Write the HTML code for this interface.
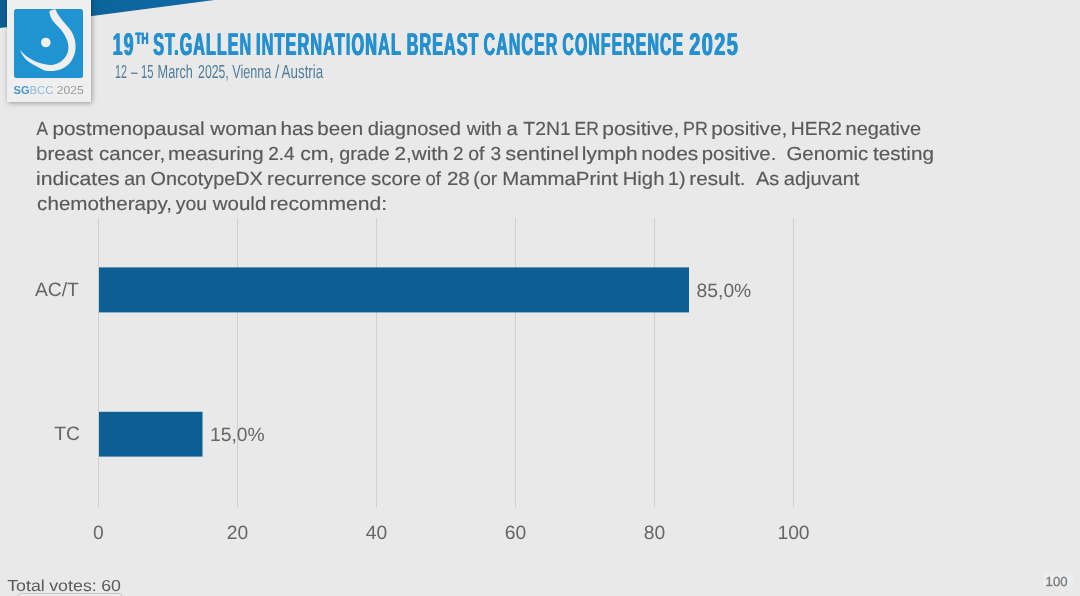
<!DOCTYPE html>
<html><head><meta charset="utf-8">
<style>
html,body{margin:0;padding:0;}
body{width:1080px;height:596px;overflow:hidden;background:#e9e9e9;position:relative;font-family:"Liberation Sans",sans-serif;}
.abs{position:absolute;}
svg{will-change:transform;}
svg text{font-family:"Liberation Sans",sans-serif;text-rendering:geometricPrecision;}
.tt{font-weight:bold;fill:#2590cf;}
.st{fill:#4f7d9c;}
.qq{fill:#5a5a5a;stroke:#5a5a5a;stroke-width:0.18px;}
#card{left:6.5px;top:-6px;width:84.5px;height:107.5px;background:#efefef;box-shadow:1px 1px 5px rgba(0,0,0,.35);}
#sq{left:14px;top:9px;width:69.4px;height:68.5px;background:#2093d3;border-radius:2.5px;}
</style></head><body>
<svg class="abs" style="left:0;top:0" width="1080" height="110">
<defs><linearGradient id="bg" x1="0" x2="1" y1="0" y2="0"><stop offset="0" stop-color="#0b5f94"/><stop offset="1" stop-color="#0f6aa5"/></linearGradient></defs>
<polygon points="0,0 214.5,0 0,27.9" fill="url(#bg)"/>
</svg>
<div id="card" class="abs"></div>
<div id="sq" class="abs"></div>
<svg class="abs" style="left:14px;top:8.9px;overflow:visible" width="70" height="69" viewBox="0 0 70 69">
<path d="M41.4,0.3 C43,4 44.5,6.5 46.9,9.5 C50,13.5 53.5,17 56.1,20.6 C59,24.6 60.8,29 61.3,33.5 C61.8,37.5 61.6,41 60.7,44.6 C59.8,48 58.3,51 56.1,53.8 C53.6,56.8 50.6,58.9 46.9,60.3 C43.4,61.6 39.8,62.2 35.8,62.1 C31.8,62 28.3,60.6 24.7,58.4 C20.6,56.6 17,54.6 13.7,52 C10.3,49 7.7,45.4 5.9,40.9 C8.7,44.2 11.8,46.9 15.5,49.2 C19.6,51.6 23.8,53.6 28.4,54.8 C32.2,55.9 35.8,56.3 39.5,55.7 C43,55 46.2,53.5 48.7,51.1 C51.2,48.8 53,46 53.9,42.8 C54.9,39.2 54.5,35.4 53.3,31.7 C52,28 49.7,24.2 46.9,20.6 C44,17.4 41,14.6 38.6,11.4 C36.6,8.6 35.6,5.6 35.4,2.2 C37,1.2 39,0.5 41.4,0.3 Z" fill="#efefef"/>
<circle cx="31.8" cy="33.5" r="4.8" fill="#efefef"/>
</svg>
<svg class="abs" style="left:0;top:0" width="1080" height="110">
<g>
<text class="tt" x="112.35" y="54.5" font-size="31.4" letter-spacing="2.2" textLength="21.80" lengthAdjust="spacingAndGlyphs">19</text>
<text class="tt" x="152.75" y="54.5" font-size="31.4" letter-spacing="2.2" textLength="99.10" lengthAdjust="spacingAndGlyphs">ST.GALLEN</text>
<text class="tt" x="255.55" y="54.5" font-size="31.4" letter-spacing="2.2" textLength="146.00" lengthAdjust="spacingAndGlyphs">INTERNATIONAL</text>
<text class="tt" x="406.35" y="54.5" font-size="31.4" letter-spacing="2.2" textLength="72.70" lengthAdjust="spacingAndGlyphs">BREAST</text>
<text class="tt" x="483.15" y="54.5" font-size="31.4" letter-spacing="2.2" textLength="74.90" lengthAdjust="spacingAndGlyphs">CANCER</text>
<text class="tt" x="561.95" y="54.5" font-size="31.4" letter-spacing="2.2" textLength="121.80" lengthAdjust="spacingAndGlyphs">CONFERENCE</text>
<text class="tt" x="688.85" y="54.5" font-size="31.4" letter-spacing="2.2" textLength="49.90" lengthAdjust="spacingAndGlyphs">2025</text>
<text class="tt" x="112.80" y="54.5" font-size="31.4" letter-spacing="2.2" textLength="21.80" lengthAdjust="spacingAndGlyphs">19</text>
<text class="tt" x="153.20" y="54.5" font-size="31.4" letter-spacing="2.2" textLength="99.10" lengthAdjust="spacingAndGlyphs">ST.GALLEN</text>
<text class="tt" x="256.00" y="54.5" font-size="31.4" letter-spacing="2.2" textLength="146.00" lengthAdjust="spacingAndGlyphs">INTERNATIONAL</text>
<text class="tt" x="406.80" y="54.5" font-size="31.4" letter-spacing="2.2" textLength="72.70" lengthAdjust="spacingAndGlyphs">BREAST</text>
<text class="tt" x="483.60" y="54.5" font-size="31.4" letter-spacing="2.2" textLength="74.90" lengthAdjust="spacingAndGlyphs">CANCER</text>
<text class="tt" x="562.40" y="54.5" font-size="31.4" letter-spacing="2.2" textLength="121.80" lengthAdjust="spacingAndGlyphs">CONFERENCE</text>
<text class="tt" x="689.30" y="54.5" font-size="31.4" letter-spacing="2.2" textLength="49.90" lengthAdjust="spacingAndGlyphs">2025</text>
<text class="tt" x="113.25" y="54.5" font-size="31.4" letter-spacing="2.2" textLength="21.80" lengthAdjust="spacingAndGlyphs">19</text>
<text class="tt" x="153.65" y="54.5" font-size="31.4" letter-spacing="2.2" textLength="99.10" lengthAdjust="spacingAndGlyphs">ST.GALLEN</text>
<text class="tt" x="256.45" y="54.5" font-size="31.4" letter-spacing="2.2" textLength="146.00" lengthAdjust="spacingAndGlyphs">INTERNATIONAL</text>
<text class="tt" x="407.25" y="54.5" font-size="31.4" letter-spacing="2.2" textLength="72.70" lengthAdjust="spacingAndGlyphs">BREAST</text>
<text class="tt" x="484.05" y="54.5" font-size="31.4" letter-spacing="2.2" textLength="74.90" lengthAdjust="spacingAndGlyphs">CANCER</text>
<text class="tt" x="562.85" y="54.5" font-size="31.4" letter-spacing="2.2" textLength="121.80" lengthAdjust="spacingAndGlyphs">CONFERENCE</text>
<text class="tt" x="689.75" y="54.5" font-size="31.4" letter-spacing="2.2" textLength="49.90" lengthAdjust="spacingAndGlyphs">2025</text>
</g>
<text class="tt" x="135.05" y="44.0" font-size="16.2" letter-spacing="0" textLength="13.10" lengthAdjust="spacingAndGlyphs">TH</text>
<text class="tt" x="135.40" y="44.0" font-size="16.2" letter-spacing="0" textLength="13.10" lengthAdjust="spacingAndGlyphs">TH</text>
<text class="tt" x="135.75" y="44.0" font-size="16.2" letter-spacing="0" textLength="13.10" lengthAdjust="spacingAndGlyphs">TH</text>
<text class="st" x="115.00" y="77.5" font-size="18.8" letter-spacing="0" textLength="11.90" lengthAdjust="spacingAndGlyphs">12</text>
<text class="st" x="131.00" y="77.5" font-size="18.8" letter-spacing="0" textLength="6.60" lengthAdjust="spacingAndGlyphs">–</text>
<text class="st" x="141.00" y="77.5" font-size="18.8" letter-spacing="0" textLength="12.50" lengthAdjust="spacingAndGlyphs">15</text>
<text class="st" x="157.60" y="77.5" font-size="18.8" letter-spacing="0" textLength="35.30" lengthAdjust="spacingAndGlyphs">March</text>
<text class="st" x="198.10" y="77.5" font-size="18.8" letter-spacing="0" textLength="30.60" lengthAdjust="spacingAndGlyphs">2025,</text>
<text class="st" x="232.20" y="77.5" font-size="18.8" letter-spacing="0" textLength="39.10" lengthAdjust="spacingAndGlyphs">Vienna</text>
<text class="st" x="275.00" y="77.5" font-size="18.8" letter-spacing="0" textLength="4.20" lengthAdjust="spacingAndGlyphs">/</text>
<text class="st" x="281.60" y="77.5" font-size="18.8" letter-spacing="0" textLength="41.60" lengthAdjust="spacingAndGlyphs">Austria</text>
<text x="13.6" y="94.1" font-size="11.6" font-weight="bold" fill="#4596c8" textLength="16" lengthAdjust="spacingAndGlyphs">SG</text>
<text x="29.6" y="94.1" font-size="11.6" fill="#8dbbd9" textLength="23.8" lengthAdjust="spacingAndGlyphs">BCC</text>
<text x="56.8" y="94.1" font-size="11.6" fill="#9a9a9a" textLength="27" lengthAdjust="spacingAndGlyphs">2025</text>
</svg>

<svg class="abs" style="left:0;top:100px" width="1080" height="130" viewBox="0 100 1080 130"><g class="qq" font-size="19">
<text transform="translate(36.60,135.0) scale(0.9077,1)">A</text>
<text transform="translate(52.51,135.0) scale(1.0912,1)">postmenopausal</text>
<text transform="translate(210.29,135.0) scale(1.0895,1)">woman</text>
<text transform="translate(280.52,135.0) scale(1.0847,1)">has</text>
<text transform="translate(317.31,135.0) scale(1.0860,1)">been</text>
<text transform="translate(367.80,135.0) scale(1.0629,1)">diagnosed</text>
<text transform="translate(466.64,135.0) scale(1.0403,1)">with</text>
<text transform="translate(506.40,135.0) scale(1.0636,1)">a</text>
<text transform="translate(523.30,135.0) scale(1.0219,1)">T2N1</text>
<text transform="translate(574.48,135.0) scale(0.9200,1)">ER</text>
<text transform="translate(602.19,135.0) scale(1.1061,1)">positive,</text>
<text transform="translate(682.96,135.0) scale(0.9403,1)">PR</text>
<text transform="translate(711.21,135.0) scale(1.0910,1)">positive,</text>
<text transform="translate(790.79,135.0) scale(1.0099,1)">HER2</text>
<text transform="translate(845.55,135.0) scale(1.0503,1)">negative</text>
<text transform="translate(36.02,160.0) scale(1.0794,1)">breast</text>
<text transform="translate(99.00,160.0) scale(1.0804,1)">cancer,</text>
<text transform="translate(167.92,160.0) scale(1.0787,1)">measuring</text>
<text transform="translate(268.20,160.0) scale(0.9983,1)">2.4</text>
<text transform="translate(300.20,160.0) scale(1.1200,1)">cm,</text>
<text transform="translate(339.30,160.0) scale(1.0390,1)">grade</text>
<text transform="translate(394.40,160.0) scale(1.0903,1)">2,with</text>
<text transform="translate(453.10,160.0) scale(0.9900,1)">2</text>
<text transform="translate(468.20,160.0) scale(1.0261,1)">of</text>
<text transform="translate(490.40,160.0) scale(1.0000,1)">3</text>
<text transform="translate(505.60,160.0) scale(1.1200,1)">sentinel</text>
<text transform="translate(581.80,160.0) scale(1.1049,1)">lymph</text>
<text transform="translate(641.30,160.0) scale(1.1001,1)">nodes</text>
<text transform="translate(701.83,160.0) scale(1.0685,1)">positive.</text>
<text transform="translate(786.40,160.0) scale(1.0764,1)">Genomic</text>
<text transform="translate(872.90,160.0) scale(1.0900,1)">testing</text>
<text transform="translate(35.99,185.0) scale(1.1144,1)">indicates</text>
<text transform="translate(124.20,185.0) scale(1.0259,1)">an</text>
<text transform="translate(150.50,185.0) scale(1.0412,1)">OncotypeDX</text>
<text transform="translate(267.11,185.0) scale(1.0936,1)">recurrence</text>
<text transform="translate(371.00,185.0) scale(1.0764,1)">score</text>
<text transform="translate(425.60,185.0) scale(0.9718,1)">of</text>
<text transform="translate(446.90,185.0) scale(1.0843,1)">28</text>
<text transform="translate(473.37,185.0) scale(1.0308,1)">(or</text>
<text transform="translate(502.13,185.0) scale(1.0745,1)">MammaPrint</text>
<text transform="translate(622.73,185.0) scale(1.0664,1)">High</text>
<text transform="translate(667.96,185.0) scale(1.0407,1)">1)</text>
<text transform="translate(689.31,185.0) scale(1.0883,1)">result.</text>
<text transform="translate(755.90,185.0) scale(1.0474,1)">As</text>
<text transform="translate(783.80,185.0) scale(1.0516,1)">adjuvant</text>
<text transform="translate(37.10,210.0) scale(1.0854,1)">chemotherapy,</text>
<text transform="translate(175.80,210.0) scale(1.0211,1)">you</text>
<text transform="translate(212.78,210.0) scale(1.0784,1)">would</text>
<text transform="translate(269.79,210.0) scale(1.1102,1)">recommend:</text>
</g></svg>

<svg class="abs" style="left:0;top:210px" width="1080" height="386" viewBox="0 210 1080 386">
<g fill="#d0d0d0">
<rect x="98" y="218" width="1" height="289"/>
<rect x="237" y="218" width="1" height="289"/>
<rect x="376" y="218" width="1" height="289"/>
<rect x="515" y="218" width="1" height="289"/>
<rect x="654" y="218" width="1" height="289"/>
<rect x="793" y="218" width="1" height="289"/>
</g>
<rect x="99" y="267.4" width="590" height="45" fill="#0b5f92"/>
<rect x="99" y="411.8" width="103.5" height="44.8" fill="#0b5f92"/>
<g font-size="19.3" fill="#666">
<text x="34.9" y="296">AC/T</text>
<text x="54.2" y="440.3">TC</text>
<text x="696.6" y="296.7">85,0%</text>
<text x="210" y="440.7">15,0%</text>
<g text-anchor="middle">
<text x="98.4" y="539">0</text>
<text x="237.5" y="539">20</text>
<text x="376.5" y="539">40</text>
<text x="515.5" y="539">60</text>
<text x="654.5" y="539">80</text>
<text x="793.5" y="539">100</text>
</g>
</g>
<rect x="17.5" y="593.5" width="105" height="12" rx="4" fill="#ededed" stroke="#c6c6c6" stroke-width="1"/>
<g font-size="15.9" fill="#5a5a5a">
<text x="7.2" y="591.1" textLength="37.6" lengthAdjust="spacingAndGlyphs">Total</text>
<text x="49.2" y="591.1" textLength="47.6" lengthAdjust="spacingAndGlyphs">votes:</text>
<text x="101.2" y="591.1" textLength="19.8" lengthAdjust="spacingAndGlyphs">60</text>
</g>
<rect x="1043.3" y="573" width="29.7" height="13.2" fill="#ecedef"/>
<text x="1045.6" y="585.7" font-size="13.2" fill="#7c7c7c" stroke="#7c7c7c" stroke-width="0.3">100</text>
</svg>
</body></html>
